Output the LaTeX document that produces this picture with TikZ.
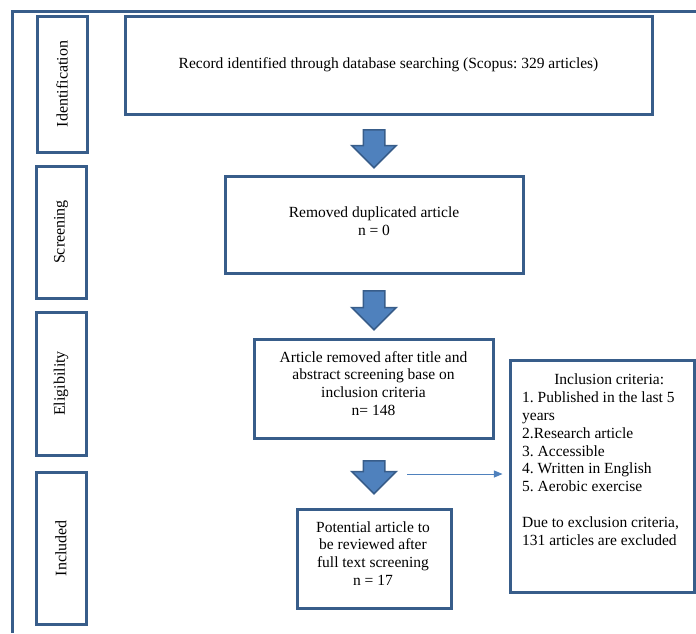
\documentclass[tikz,border=0pt]{standalone}
\usepackage{fontspec}
\setmainfont{Liberation Serif}
\usetikzlibrary{arrows}
\usetikzlibrary{shapes.arrows}
\definecolor{boxblue}{RGB}{56,93,138}
\definecolor{fillblue}{RGB}{79,129,189}
\frenchspacing

\begin{document}
\begin{tikzpicture}[x=1pt, y=-1pt,
        box/.style={draw=boxblue, line width=3pt, inner sep=0pt},
        txt/.style={align=center, font=\fontsize{15.5}{17.8}\selectfont},
        sidetxt/.style={font=\fontsize{16}{18}\selectfont},
        blockarrow/.style={single arrow, shape border rotate=270, draw=boxblue, fill=fillblue,
            line width=1.5pt, minimum height=38pt, inner xsep=10pt, inner ysep=0pt,
            single arrow head extend=11.5pt, anchor=tail}]
        \useasboundingbox (0,0) rectangle (696,633);
        % outer frame
        \draw[boxblue, line width=3pt] (696,11) -- (12,11) -- (12,633);

        % stage boxes on the left
        \node[box, sidetxt, minimum width=50, minimum height=136] (ident) at (62,84) {\rotatebox{90}{Identification}};
        \node[box, sidetxt, minimum width=50, minimum height=132] (screen) at (61,232) {\rotatebox{90}{Screening}};
        \node[box, sidetxt, minimum width=50, minimum height=143] (elig) at (61,383.5) {\rotatebox{90}{Eligibility}};
        \node[box, sidetxt, minimum width=50, minimum height=152] (incl) at (61,548) {\rotatebox{90}{Included}};

        % main flow
        \node[box, minimum width=527, minimum height=98] (rec) at (388.5,65) {};
        \node[txt] (rec text) at (388.5,65) {Record identified through database searching (Scopus: 329 articles)};
        \node[box, minimum width=298, minimum height=97] (dup) at (374,224.5) {};
        \node[txt] (dup text) at (374,221) {Removed duplicated article\\n = 0};
        \node[box, minimum width=239, minimum height=99] (abs) at (373.5,388.5) {};
        \node[txt] (abs text) at (373.5,383.5) {Article removed after title and\\abstract screening base on\\inclusion criteria\\n= 148};
        \node[box, minimum width=154, minimum height=99] (pot) at (374,558.5) {};
        \node[txt] (pot text) at (373,553.5) {Potential article to\\be reviewed after\\full text screening\\n = 17};

        \node[blockarrow] (arr1) at (374,129) {};
        \node[blockarrow, minimum height=39pt] (arr2) at (374,290) {};
        \node[blockarrow, minimum height=33pt] (arr3) at (374,460) {};

        % criteria box
        \node[box, minimum width=184, minimum height=232] (crit) at (602,476) {};
        \node[txt, align=left, anchor=north west, inner sep=0pt] (crit text) at (522,374) {\makebox[174pt]{Inclusion criteria:}\\1. Published in the last 5\\years\\2.Research article\\3. Accessible\\4. Written in English\\5. Aerobic exercise\\[17.8pt]Due to exclusion criteria,\\131 articles are excluded};

        \coordinate (exc) at (407,474);
        \draw[fillblue, line width=1pt, -triangle 45, shorten >=6pt] (exc) -- (exc -| crit.west);
    \end{tikzpicture}
\end{document}
